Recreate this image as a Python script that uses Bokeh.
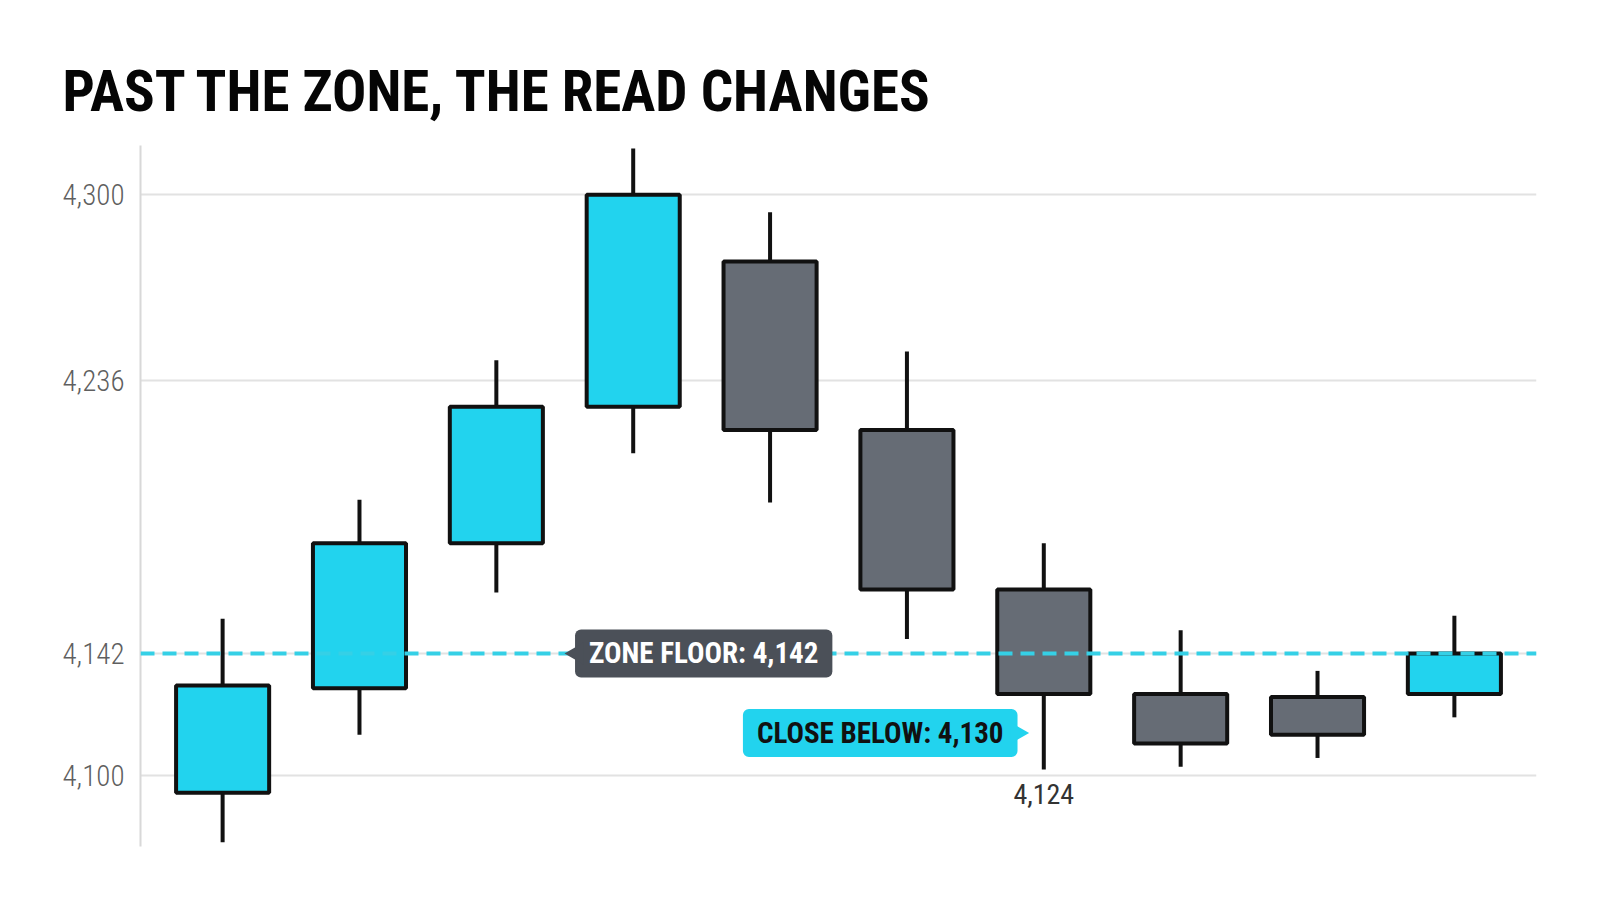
import math
from bokeh.plotting import figure
from bokeh.models import Span, Label, FixedTicker, NumeralTickFormatter, Range1d
from bokeh.embed import file_html
from bokeh.resources import INLINE

# ---- data ----
title_text = "PAST THE ZONE, THE READ CHANGES"
sessions = list(range(10))
opens  = [4094, 4130, 4180, 4227, 4277, 4219, 4164, 4128, 4127, 4128]
highs  = [4154, 4195, 4243, 4316, 4294, 4246, 4180, 4150, 4136, 4155]
lows   = [4077, 4114, 4163, 4211, 4194, 4147, 4102, 4103, 4106, 4120]
closes = [4131, 4180, 4227, 4300, 4219, 4164, 4128, 4111, 4114, 4142]
y_ticks = [4100, 4142, 4236, 4300]
zone_floor = 4142
close_below = 4130
marked_session = 6
marked_low_text = "4,124"

# ---- styles ----
CYAN = "#22d3ee"
GRAY = "#666c75"
DARK = "#4b5058"
INK = "#111111"
COND = "Roboto Condensed, Roboto, sans-serif"
COND_LIGHT = "Roboto Condensed Light, Roboto Condensed, Roboto, sans-serif"

p = figure(width=1584, height=898,
           x_range=Range1d(-0.6, 9.6), y_range=Range1d(4075.5, 4317),
           output_backend="svg", toolbar_location=None, x_axis_location=None,
           min_border_left=140, min_border_right=48, min_border_top=145, min_border_bottom=52)
p.outline_line_color = None
p.background_fill_color = "white"
p.border_fill_color = "white"
p.xgrid.visible = False
p.ygrid.grid_line_color = "#e2e2e2"
p.ygrid.grid_line_width = 2

p.title.text = title_text
p.title.align = "left"
p.title.offset = -78
p.title.text_font = COND
p.title.text_font_style = "bold"
p.title.text_font_size = "57px"
p.title.text_color = "#050505"
p.title.standoff = 42

ax = p.yaxis[0]
ax.ticker = FixedTicker(ticks=y_ticks)
ax.formatter = NumeralTickFormatter(format="0,0")
ax.major_tick_line_color = None
ax.minor_tick_line_color = None
ax.axis_line_color = "#d8d8d8"
ax.axis_line_width = 2
ax.major_label_text_font = COND_LIGHT
ax.major_label_text_font_style = "normal"
ax.major_label_text_font_size = "29px"
ax.major_label_text_color = "#5f5f5f"
ax.major_label_standoff = 10

up = [c >= o for o, c in zip(opens, closes)]
colors = [CYAN if u else GRAY for u in up]
tops = [max(o, c) for o, c in zip(opens, closes)]
bottoms = [min(o, c) for o, c in zip(opens, closes)]

p.segment(x0=sessions, y0=lows, x1=sessions, y1=highs, line_color=INK, line_width=4)
p.vbar(x=sessions, width=0.68, top=tops, bottom=bottoms, fill_color=colors,
       line_color=INK, line_width=4)

p.add_layout(Span(location=zone_floor, dimension="width", line_color="#35d0e6",
                  line_width=4, line_dash="14 8"))

# callout labels
zone_lbl = Label(x=2.575, y=zone_floor, text=f"ZONE FLOOR: {zone_floor:,}",
                 text_align="left", text_baseline="middle",
                 text_font=COND, text_font_style="bold", text_font_size="29px",
                 text_color="white", background_fill_color=DARK,
                 padding={"left": 14, "right": 14, "top": 7, "bottom": 7}, border_radius=6)
p.add_layout(zone_lbl)
close_lbl = Label(x=5.808, y=4114.6, text=f"CLOSE BELOW: {close_below:,}",
                  text_align="right", text_baseline="middle",
                  text_font=COND, text_font_style="bold", text_font_size="29px",
                  text_color=INK, background_fill_color=CYAN,
                  padding={"left": 14, "right": 14, "top": 7, "bottom": 7}, border_radius=6)
p.add_layout(close_lbl)

p.scatter(x=[2.591], y=[zone_floor], marker="triangle", size=22, angle=math.pi / 2,
          fill_color=DARK, line_color=None, level="overlay")
p.scatter(x=[5.80], y=[4114.6], marker="triangle", size=22, angle=-math.pi / 2,
          fill_color=CYAN, line_color=None, level="overlay")

p.add_layout(Label(x=marked_session, y=4093.6, text=marked_low_text,
                   text_align="center", text_baseline="middle",
                   text_font=COND, text_font_size="28px", text_color="#333333"))

open("out.html", "w").write(file_html(p, INLINE))
